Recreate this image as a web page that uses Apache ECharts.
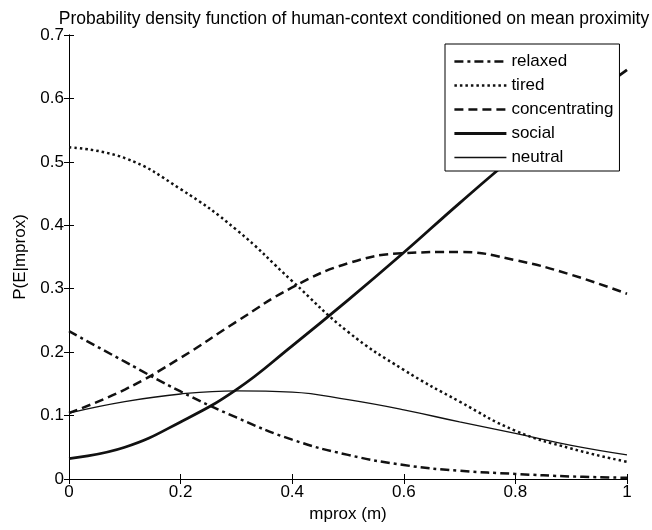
<!DOCTYPE html>
<html><head><meta charset="utf-8">
<script src="https://cdn.jsdelivr.net/npm/echarts@6/dist/echarts.min.js"></script>
<style>html,body{margin:0;padding:0;background:#fff}#c{width:652px;height:530px}</style>
</head><body><div id="c"></div>
<script>
const xValues = [0, 0.1, 0.2, 0.3, 0.4, 0.5, 0.6, 0.7, 0.8, 0.9, 1.0];
const relaxed = [0.233, 0.185, 0.138, 0.097, 0.062, 0.038, 0.022, 0.013, 0.008, 0.004, 0.002];
const tired = [0.523, 0.506, 0.457, 0.393, 0.312, 0.232, 0.172, 0.122, 0.076, 0.048, 0.027];
const concentrating = [0.104, 0.141, 0.191, 0.248, 0.302, 0.340, 0.356, 0.358, 0.345, 0.322, 0.292];
const social = [0.032, 0.050, 0.090, 0.141, 0.210, 0.282, 0.357, 0.435, 0.510, 0.580, 0.645];
const neutral = [0.104, 0.122, 0.134, 0.139, 0.137, 0.125, 0.109, 0.090, 0.072, 0.053, 0.038];
const xTicks = [0, 0.2, 0.4, 0.6, 0.8, 1];
const yTicks = [0, 0.1, 0.2, 0.3, 0.4, 0.5, 0.6, 0.7];

const FONT = 'Liberation Sans';
const STYLES = {
  relaxed: { type: [9, 4, 3, 4], width: 2.5 },
  tired: { type: [2.5, 3], width: 2.5 },
  concentrating: { type: [9, 5], width: 2.5 },
  social: { type: 'solid', width: 2.8 },
  neutral: { type: 'solid', width: 1.3 }
};
const pairs = arr => xValues.map((x, i) => [x, arr[i]]);
function mk(name, data) {
  const s = STYLES[name];
  return {
    name, type: 'line', data: pairs(data), smooth: 0.45, symbol: 'none',
    lineStyle: { color: '#111', width: s.width, type: s.type, cap: 'butt' },
    itemStyle: { color: '#111' }
  };
}
const chart = echarts.init(document.getElementById('c'), null, { renderer: 'canvas' });
const axisCommon = {
  type: 'value', splitLine: { show: false },
  axisLine: { show: true, lineStyle: { color: '#000', width: 1 } },
  axisTick: { show: true, inside: true, length: 5, lineStyle: { color: '#000' } }
};
const names = ['relaxed', 'tired', 'concentrating', 'social', 'neutral'];
chart.setOption({
  animation: false,
  title: {
    text: 'Probability density function of human-context conditioned on mean proximity',
    left: 349, top: 5, textAlign: 'center',
    textStyle: { fontFamily: FONT, fontSize: 17.5, fontWeight: 'normal', color: '#000' }
  },
  grid: { left: 69, right: 25, top: 35, bottom: 51, show: false, containLabel: false, outerBoundsMode: 'none' },
  legend: {
    left: 445, top: 44, orient: 'vertical', itemWidth: 52, itemHeight: 14, itemGap: 7,
    itemStyle: { opacity: 0 },
    backgroundColor: '#fff', borderColor: '#000', borderWidth: 1, borderRadius: 0,
    padding: [9, 6, 5, 8],
    textStyle: { fontFamily: FONT, fontSize: 17, color: '#000' },
    data: names.map(n => ({
      name: n,
      lineStyle: { color: '#111', width: STYLES[n].width, type: STYLES[n].type, cap: 'butt' }
    }))
  },
  xAxis: [
    Object.assign({}, axisCommon, {
      min: 0, max: 1, interval: 0.2, position: 'bottom',
      name: 'mprox (m)', nameLocation: 'middle', nameGap: 25,
      nameTextStyle: { fontFamily: FONT, fontSize: 17, color: '#000' },
      axisLabel: { fontFamily: FONT, fontSize: 17, color: '#000', margin: 5,
        formatter: v => xTicks.some(t => Math.abs(t - v) < 1e-9) ? String(+v.toFixed(1)) : '' }
    }),
    Object.assign({}, axisCommon, {
      min: 0, max: 1, interval: 0.2, position: 'top', axisLabel: { show: false }
    })
  ],
  yAxis: [
    Object.assign({}, axisCommon, {
      min: 0, max: 0.7, interval: 0.1, position: 'left',
      name: 'P(E|mprox)', nameLocation: 'middle', nameGap: 40, nameRotate: 90,
      nameTextStyle: { fontFamily: FONT, fontSize: 17, color: '#000' },
      axisLabel: { fontFamily: FONT, fontSize: 17, color: '#000', margin: 5,
        formatter: v => yTicks.some(t => Math.abs(t - v) < 1e-9) ? String(+v.toFixed(1)) : '' }
    }),
    Object.assign({}, axisCommon, {
      min: 0, max: 0.7, interval: 0.1, position: 'right', axisLabel: { show: false }
    })
  ],
  series: [
    mk('relaxed', relaxed),
    mk('tired', tired),
    mk('concentrating', concentrating),
    mk('social', social),
    mk('neutral', neutral)
  ]
});
</script></body></html>
